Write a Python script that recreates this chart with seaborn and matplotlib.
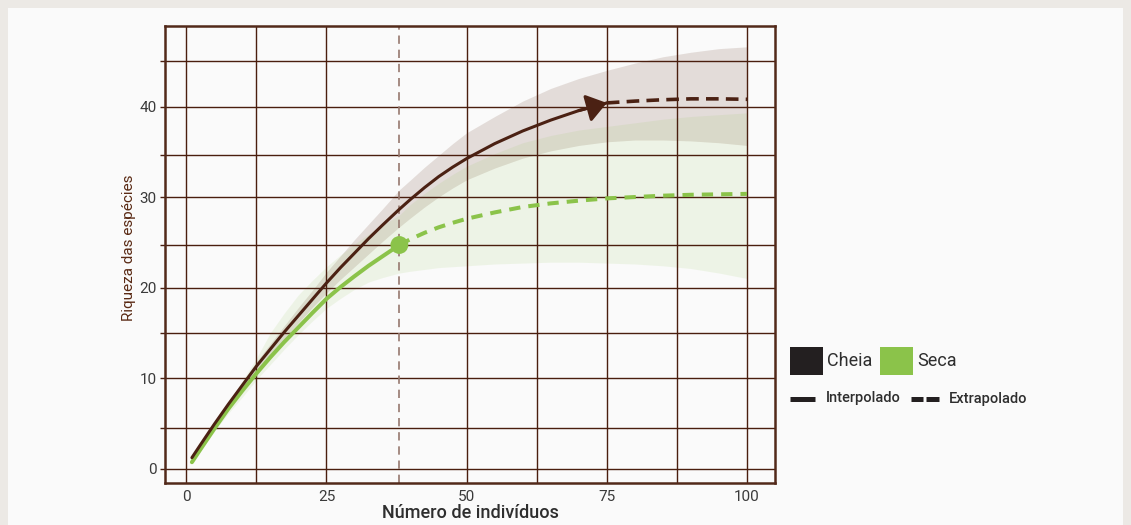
import pandas as pd
import seaborn as sns
import matplotlib.pyplot as plt
from matplotlib.patches import Rectangle
from matplotlib.lines import Line2D
from matplotlib.ticker import FixedLocator

# ---- data -------------------------------------------------------------
# Cheia: interpolated (rarefaction) curve up to the observed sample
cheia_int_n = [1, 2.5, 5, 7.5, 10, 12.5, 15, 17.5, 20, 22.5, 25, 27.5, 30,
               32.5, 35, 38, 40, 42.5, 45, 47.5, 50, 55, 60, 65, 70, 75]
cheia_int_s = [1.2, 2.6, 4.9, 7.1, 9.2, 11.3, 13.2, 15.1, 16.9, 18.7, 20.5,
               22.2, 23.8, 25.4, 26.9, 28.65, 29.75, 31.05, 32.25, 33.3,
               34.25, 35.9, 37.3, 38.5, 39.55, 40.4]
# Cheia: extrapolated curve
cheia_ext_n = [75, 80, 85, 90, 95, 100]
cheia_ext_s = [40.4, 40.6, 40.75, 40.85, 40.85, 40.8]
# Cheia: 95% confidence band
cheia_band_n = [1, 2.5, 5, 7.5, 10, 12.5, 15, 17.5, 20, 22.5, 25, 27.5, 30,
                32.5, 35, 38, 40, 42.5, 45, 47.5, 50, 55, 60, 65, 70, 75,
                80, 85, 90, 95, 100]
cheia_lo = [1.2, 2.5, 4.7, 6.8, 8.8, 10.8, 12.6, 14.4, 16.1, 17.8, 19.4,
            20.9, 22.3, 23.7, 25.1, 26.7, 27.7, 28.9, 30.0, 31.0, 31.9,
            33.2, 34.3, 35.1, 35.7, 36.1, 36.3, 36.3, 36.2, 36.0, 35.7]
cheia_hi = [1.2, 2.7, 5.1, 7.4, 9.6, 11.8, 13.8, 15.8, 17.8, 19.7, 21.7,
            23.5, 25.3, 27.0, 28.7, 30.8, 31.9, 33.3, 34.6, 35.9, 37.1,
            38.9, 40.6, 42.0, 43.1, 44.0, 44.8, 45.5, 46.0, 46.4, 46.6]

# Seca: interpolated curve up to the observed sample
seca_int_n = [1, 2.5, 5, 7.5, 10, 12.5, 15, 17.5, 20, 22.5, 25, 27.5, 30,
              32.5, 35, 38]
seca_int_s = [0.7, 2.1, 4.4, 6.6, 8.6, 10.5, 12.3, 14.0, 15.6, 17.2, 18.75,
              20.05, 21.25, 22.4, 23.45, 24.7]
# Seca: extrapolated curve
seca_ext_n = [38, 40, 42.5, 45, 47.5, 50, 55, 60, 65, 70, 75, 80, 85, 90,
              95, 100]
seca_ext_s = [24.7, 25.35, 26.05, 26.65, 27.15, 27.6, 28.3, 28.9, 29.3,
              29.6, 29.85, 30.0, 30.15, 30.25, 30.3, 30.35]
# Seca: 95% confidence band
seca_band_n = [1, 2.5, 5, 7.5, 10, 12.5, 15, 17.5, 20, 22.5, 25, 27.5, 30,
               32.5, 35, 38, 40, 42.5, 45, 47.5, 50, 55, 60, 65, 70, 75,
               80, 85, 90, 95, 100]
seca_lo = [0.7, 2.0, 4.1, 6.1, 7.9, 9.8, 11.5, 13.2, 14.8, 16.3, 17.7,
           18.8, 19.8, 20.6, 21.1, 21.6, 21.8, 22.0, 22.2, 22.3, 22.4,
           22.6, 22.7, 22.8, 22.8, 22.7, 22.6, 22.4, 22.1, 21.6, 21.0]
seca_hi = [0.7, 2.3, 4.8, 7.3, 9.7, 12.2, 15.0, 17.2, 19.2, 20.8, 22.3,
           23.6, 24.8, 25.9, 26.9, 28.0, 29.2, 30.4, 31.5, 32.5, 33.4,
           34.8, 36.0, 36.8, 37.4, 37.8, 38.2, 38.6, 38.9, 39.1, 39.3]

# observed sample size of Seca (reference line) and its richness
seca_obs_n = [38]
seca_obs_s = [24.7]

x_major = [0, 25, 50, 75, 100]
x_minor = [12.5, 62.5, 87.5]
y_major = [0, 10, 20, 30, 40]
y_minor = [4.5, 15, 24.7, 34.6, 45]

series_names = ["Cheia", "Seca"]
line_names = ["Interpolado", "Extrapolado"]

# ---- style --------------------------------------------------------------
BROWN = "#4b2113"
GRID = "#4a1e0e"
GREEN = "#8bc34a"
LEG_DARK = "#231f20"
TEXT = "#3a3a3a"
PANEL = "#fafafa"

sns.set_theme(style="white")
plt.rcParams["font.family"] = ["Roboto", "DejaVu Sans"]

fig = plt.figure(figsize=(11.31, 5.25), dpi=100, facecolor="#ece9e5")
fig.add_artist(Rectangle((8 / 1131, 0), 1115 / 1131, 517 / 525,
                         transform=fig.transFigure, facecolor=PANEL,
                         edgecolor="none", zorder=-10))
ax = fig.add_axes([165 / 1131, 42 / 525, 610 / 1131, 457 / 525])
ax.set_facecolor(PANEL)

# confidence bands
ax.fill_between(cheia_band_n, cheia_lo, cheia_hi, color="#5a2a14",
                alpha=0.14, linewidth=0, zorder=1)
ax.fill_between(seca_band_n, seca_lo, seca_hi, color=GREEN,
                alpha=0.11, linewidth=0, zorder=1.1)

# observed sample size of Seca
ax.axvline(seca_obs_n[0], color="#96786e", lw=1.2,
           linestyle=(0, (5, 3.5)), zorder=2)

df_ci = pd.DataFrame({"n": cheia_int_n, "s": cheia_int_s})
df_ce = pd.DataFrame({"n": cheia_ext_n, "s": cheia_ext_s})
df_si = pd.DataFrame({"n": seca_int_n, "s": seca_int_s})
df_se = pd.DataFrame({"n": seca_ext_n, "s": seca_ext_s})

sns.lineplot(data=df_si, x="n", y="s", color=GREEN, lw=2.9,
             errorbar=None, ax=ax, zorder=3)
sns.lineplot(data=df_se, x="n", y="s", color=GREEN, lw=2.9,
             linestyle=(0, (2.8, 2.0)), errorbar=None, ax=ax, zorder=3)
sns.lineplot(data=df_ci, x="n", y="s", color=BROWN, lw=2.2,
             errorbar=None, ax=ax, zorder=4)
sns.lineplot(data=df_ce, x="n", y="s", color=BROWN, lw=2.6,
             linestyle=(0, (3.5, 2.0)), errorbar=None, ax=ax, zorder=4)

# arrow head at the end of the interpolated Cheia curve
ax.annotate("", xy=(cheia_int_n[-1], cheia_int_s[-1]),
            xytext=(cheia_int_n[-2], cheia_int_s[-2]),
            arrowprops=dict(arrowstyle="-|>,head_length=1.2,head_width=0.85",
                            mutation_scale=10, color=BROWN, lw=2.2,
                            shrinkA=0, shrinkB=0),
            zorder=5)

sns.scatterplot(x=seca_obs_n, y=seca_obs_s, s=165, color=GREEN,
                edgecolor="none", ax=ax, zorder=6)

# ---- axes ---------------------------------------------------------------
ax.set_xlim(-3.8, 105)
ax.set_ylim(-1.6, 48.9)
ax.xaxis.set_major_locator(FixedLocator(x_major))
ax.xaxis.set_minor_locator(FixedLocator(x_minor))
ax.yaxis.set_major_locator(FixedLocator(y_major))
ax.yaxis.set_minor_locator(FixedLocator(y_minor))
ax.set_xticklabels([str(v) for v in x_major])
ax.set_yticklabels([str(v) for v in y_major])

ax.set_axisbelow("line")
ax.grid(True, which="both", color=GRID, lw=1.0)
ax.tick_params(axis="x", which="both", length=0, pad=5, labelsize=11,
               labelcolor=TEXT)
ax.tick_params(axis="y", which="both", left=True, length=3.5, width=1.0,
               color=GRID, direction="out", pad=2.5, labelsize=11,
               labelcolor=TEXT)
for side in ["left", "right", "top", "bottom"]:
    ax.spines[side].set_visible(True)
    ax.spines[side].set_color("#52291a")
    ax.spines[side].set_linewidth(1.8)

ax.set_xlabel("Número de indivíduos", fontsize=13, fontweight="medium",
              color="#2e2e2e")
ax.xaxis.label.set_va("center")
ax.xaxis.set_label_coords(0.5, -0.066)
ax.set_ylabel("Riqueza das espécies", fontsize=11, color="#5a2a14")
ax.yaxis.label.set_va("center")
ax.yaxis.set_label_coords(-0.059, 0.514)

# ---- legend -----------------------------------------------------------
W, H = 1131, 525


def fx(px):
    return px / W


def fy(py):
    return 1 - py / H


swatches = [LEG_DARK, GREEN]
sw_x = [790, 880]
for name, col, x0 in zip(series_names, swatches, sw_x):
    fig.add_artist(Rectangle((fx(x0), fy(374.5)), 32.5 / W, 27.5 / H,
                             transform=fig.transFigure, facecolor=col,
                             edgecolor="none"))
    fig.text(fx(x0 + 37), fy(361), name, fontsize=13, color="#2e2e2e",
             va="center", ha="left")

fig.add_artist(Line2D([fx(790), fx(815)], [fy(399), fy(399)],
                      transform=fig.transFigure, color=LEG_DARK, lw=3.6,
                      solid_capstyle="butt"))
fig.text(fx(826), fy(398), line_names[0], fontsize=10.5,
         fontweight="medium", color="#2e2e2e", va="center", ha="left")
for a, b in [(911, 923), (925.7, 938.7)]:
    fig.add_artist(Line2D([fx(a), fx(b)], [fy(399), fy(399)],
                          transform=fig.transFigure, color=LEG_DARK, lw=3.6,
                          solid_capstyle="butt"))
fig.text(fx(949), fy(399), line_names[1], fontsize=10.5,
         fontweight="medium", color="#2e2e2e", va="center", ha="left")

fig.savefig("out.png", dpi=100, facecolor=fig.get_facecolor())
